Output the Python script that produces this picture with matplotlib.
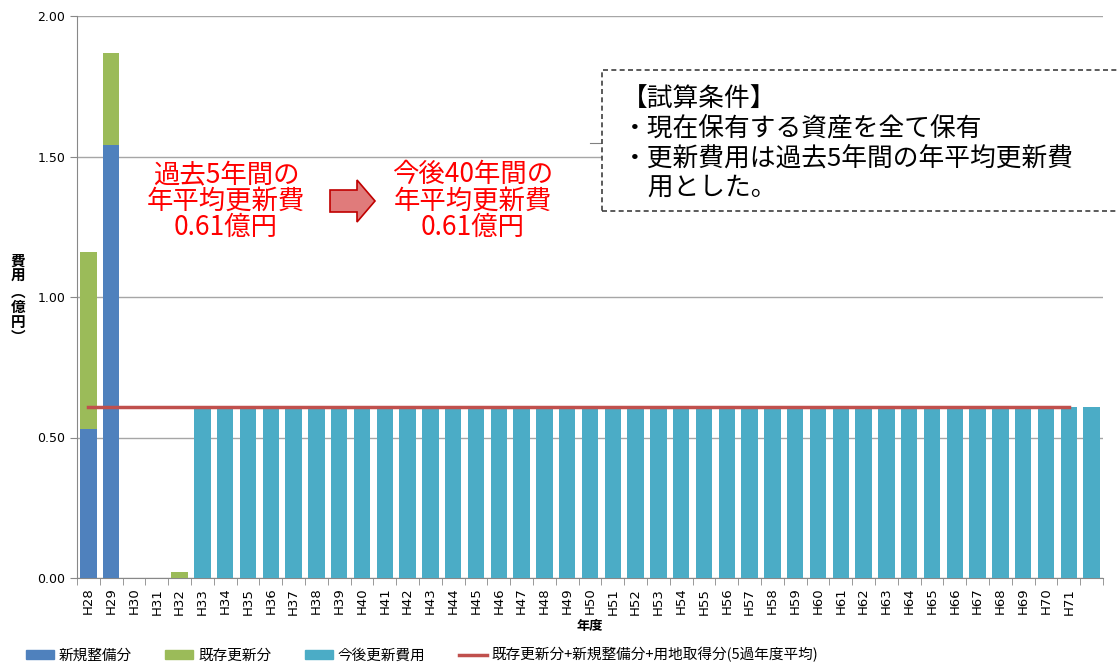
import matplotlib.pyplot as plt
import numpy as np
from matplotlib.patches import FancyArrow, Rectangle
from matplotlib.lines import Line2D

plt.rcParams['font.family'] = ['Noto Sans CJK JP', 'DejaVu Sans']

years = ['H%d' % y for y in range(28, 72)] + ['']
new_build = [0.53, 1.54, 0, 0, 0] + [0] * 40
existing = [0.63, 0.33, 0, 0, 0.02] + [0] * 40
future = [0] * 5 + [0.61] * 40
avg_line = [0.61] * 44

blue = '#4F81BD'
green = '#9BBB59'
teal = '#4BACC6'
red = '#C0504D'

fig = plt.figure(figsize=(11.18, 6.63), dpi=100)
ax = fig.add_axes([77 / 1118, 1 - 578 / 663, 1026 / 1118, 562 / 663])

x = np.arange(len(years))
w = 0.72
ax.bar(x, new_build, w, color=blue, zorder=3)
ax.bar(x, existing, w, bottom=new_build, color=green, zorder=3)
ax.bar(x, future, w, color=teal, zorder=3)
ax.plot(x[:len(avg_line)], avg_line, color=red, lw=2.5, zorder=4)

ax.set_xlim(-0.5, len(years) - 0.5)
ax.set_ylim(0, 2.0)
ax.set_yticks([0, 0.5, 1.0, 1.5, 2.0])
ax.set_yticklabels(['%.2f' % v for v in [0, 0.5, 1.0, 1.5, 2.0]], fontsize=9,
                   family=['DejaVu Sans'])
ax.set_xticks(x)
ax.set_xticklabels(years, rotation=90, fontsize=9.5, family=['DejaVu Sans'])
ax.set_xticks(np.arange(-0.5, len(years), 1), minor=True)
ax.tick_params(axis='x', which='major', length=0, pad=7)
ax.tick_params(axis='x', which='minor', length=5, color='#888888')
ax.tick_params(axis='y', length=5, color='#888888')
ax.grid(axis='y', color='#A6A6A6', lw=1, zorder=0)
for s in ['top', 'right']:
    ax.spines[s].set_visible(False)
for s in ['left', 'bottom']:
    ax.spines[s].set_color('#888888')

ax.set_xlabel('年度', fontsize=9.5, fontweight='bold', labelpad=3)
fig.text(18 / 1118, 1 - 299 / 663, '費\n用\n︵\n億\n円\n︶', fontsize=10.5,
         fontweight='bold', ha='center', va='center', linespacing=0.95)

# red annotations
fig.text(226 / 1118, 1 - 201 / 663, '過去5年間の\n年平均更新費\n0.61億円', color='#FF0000',
         fontsize=19, ha='center', va='center', linespacing=0.98)
fig.text(473 / 1118, 1 - 201 / 663, '今後40年間の\n年平均更新費\n0.61億円', color='#FF0000',
         fontsize=19, ha='center', va='center', linespacing=0.98)
arr = FancyArrow(330 / 1118, 1 - 201 / 663, 45 / 1118, 0, width=22 / 663,
                 head_width=42 / 663, head_length=18 / 1118, length_includes_head=True,
                 transform=fig.transFigure, facecolor='#E07B7B', edgecolor='#C00000', lw=1.2)
fig.patches.append(arr)

# conditions box
box = Rectangle((602 / 1118, 1 - 211 / 663), 520 / 1118, 141 / 663, transform=fig.transFigure,
                fill=True, facecolor='white', edgecolor='#404040', lw=1.2, ls=(0, (3, 2)), zorder=5)
fig.patches.append(box)
fig.add_artist(Line2D([590 / 1118, 602 / 1118], [1 - 143 / 663] * 2, color='#808080', lw=0.8))
fig.text(622 / 1118, 1 - 144 / 663,
         '【試算条件】\n・現在保有する資産を全て保有\n・更新費用は過去5年間の年平均更新費\n　用とした。',
         fontsize=18.5, ha='left', va='center', linespacing=1.16, zorder=6)

# legend
handles = [Rectangle((0, 0), 1, 1, color=blue), Rectangle((0, 0), 1, 1, color=green),
           Rectangle((0, 0), 1, 1, color=teal), Line2D([], [], color=red, lw=2.5)]
labels = ['新規整備分', '既存更新分', '今後更新費用', '既存更新分+新規整備分+用地取得分(5過年度平均)']
fig.legend(handles, labels, loc='center left', bbox_to_anchor=(26 / 1118, 1 - 655 / 663),
           ncol=4, frameon=False, fontsize=10.5, handlelength=1.9, handleheight=0.6,
           columnspacing=2.3, handletextpad=0.35, borderaxespad=0, borderpad=0)

fig.savefig('out.png', dpi=100)
